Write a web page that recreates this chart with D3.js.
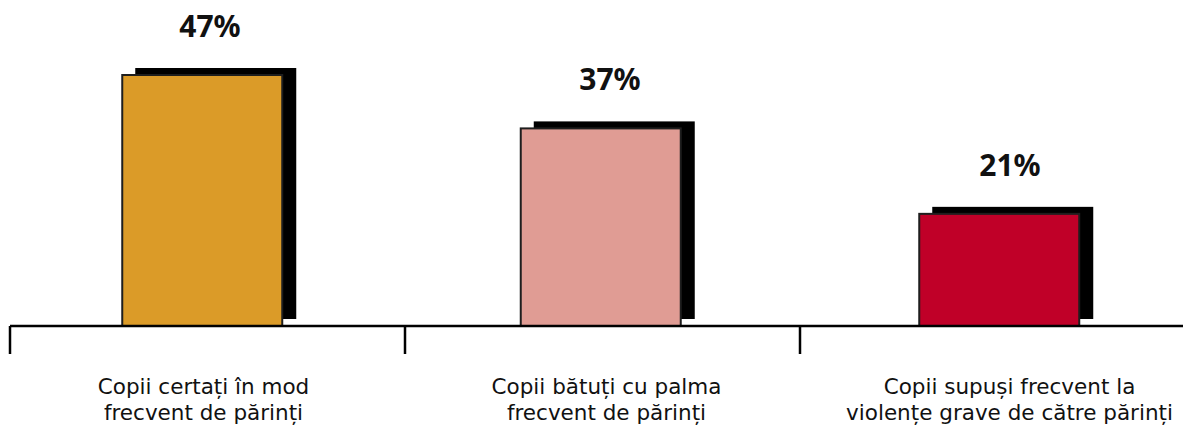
<!DOCTYPE html>
<html>
<head>
<meta charset="utf-8">
<script src="https://cdn.jsdelivr.net/npm/d3@7"></script>
<style>
  body { margin: 0; background: #fff; }
  svg { display: block; font-family: "Noto Sans", sans-serif; }
</style>
</head>
<body>
<div id="chart"></div>
<script>
const categories = ["c1", "c2", "c3"];
const labels = [
  ["Copii certați în mod", "frecvent de părinți"],
  ["Copii bătuți cu palma", "frecvent de părinți"],
  ["Copii supuși frecvent la", "violențe grave de către părinți"]
];
const values = [47, 37, 21];
const colors = ["#DB9B28", "#E09C94", "#C00028"];

const width = 1183, height = 428;
const baseY = 326;

const svg = d3.select("#chart").append("svg")
  .attr("width", width)
  .attr("height", height);

// axis bands (separators), bar positions and text positions sit on slightly different grids
const x = d3.scaleBand().domain(categories).range([10, 1195]);
const xBar = d3.scaleBand().domain(categories).range([3, 1198.5]);
const xVal = d3.scaleBand().domain(categories).range([10, 1210]);
const xCat = d3.scaleBand().domain(categories).range([2, 1211]);
const y = d3.scaleLinear().domain([0, 47]).range([baseY, 75]);

const barW = 160;
const sdx = 13, sdy = -7;

const g = svg.append("g");

// shadows
g.selectAll(".shadow").data(values).join("rect")
  .attr("class", "shadow")
  .attr("x", (d, i) => xBar(categories[i]) + (xBar.bandwidth() - barW) / 2 + sdx)
  .attr("y", d => y(d) + sdy)
  .attr("width", barW + 1)
  .attr("height", d => baseY - y(d))
  .attr("fill", "#000");

// bars
g.selectAll(".bar").data(values).join("rect")
  .attr("class", "bar")
  .attr("x", (d, i) => xBar(categories[i]) + (xBar.bandwidth() - barW) / 2)
  .attr("y", d => y(d))
  .attr("width", barW)
  .attr("height", d => baseY - y(d))
  .attr("fill", (d, i) => colors[i])
  .attr("stroke", "#1e1e1e")
  .attr("stroke-width", 2);

// value labels
g.selectAll(".val").data(values).join("text")
  .attr("class", "val")
  .attr("x", (d, i) => xVal(categories[i]) + xVal.bandwidth() / 2)
  .attr("y", d => y(d) - 38)
  .attr("text-anchor", "middle")
  .style("font-size", "30px")
  .style("font-weight", "bold")
  .attr("fill", "#111")
  .text(d => d + "%");

// axis
const ax = svg.append("g").attr("transform", `translate(0,${baseY})`)
  .call(d3.axisBottom(x).tickSize(0).tickFormat(""));
ax.select(".domain").attr("stroke", "#000").attr("stroke-width", 2.5)
  .attr("d", "M10,0H1195");

// category separators
const ticks = categories.map(c => x(c)).concat([x.range()[1]]);
svg.selectAll(".sep").data(ticks).join("line")
  .attr("class", "sep")
  .attr("x1", d => d).attr("x2", d => d)
  .attr("y1", baseY).attr("y2", 354)
  .attr("stroke", "#000").attr("stroke-width", 2.5);

// category labels, one text per line
categories.forEach((c, i) => {
  const cx = xCat(c) + xCat.bandwidth() / 2;
  labels[i].forEach((line, k) => {
    svg.append("text")
      .attr("x", cx)
      .attr("y", 394 + k * 26)
      .attr("text-anchor", "middle")
      .style("font-family", "'DejaVu Sans', sans-serif")
      .style("font-size", "21.5px")
      .attr("fill", "#111")
      .text(line);
  });
});
</script>
</body>
</html>
